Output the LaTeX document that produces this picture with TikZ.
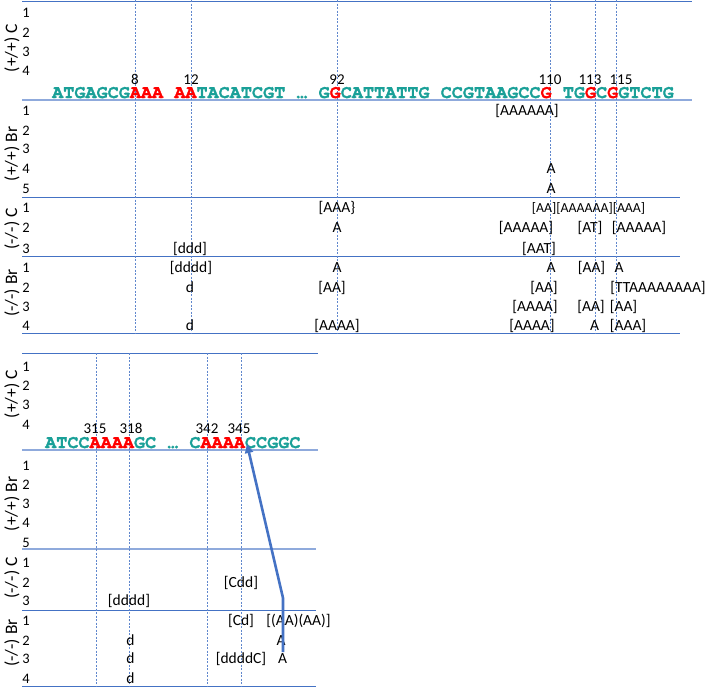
\documentclass[tikz,border=0pt]{standalone}
\usepackage{fontspec}
\setmainfont{Carlito}
\newfontfamily\seqfont{TeX Gyre Cursor}[BoldFeatures={FakeBold=1.4}]
\usetikzlibrary{arrows.meta}
\definecolor{seqteal}{RGB}{26,160,152}
\definecolor{seqred}{RGB}{255,0,0}
\definecolor{lineblue}{RGB}{68,114,196}
\definecolor{paleblue}{RGB}{143,170,220}
\newcommand{\redbase}[1]{\textcolor{seqred}{#1}}

\begin{document}
\begin{tikzpicture}[x=1pt,y=-1pt,
  sepline/.style={lineblue,line width=0.9pt},
  seqline/.style={paleblue,line width=1.4pt},
  guide/.style={lineblue!85!white,line width=0.7pt,dash pattern=on 2pt off 1.5pt},
  rowno/.style={inner sep=0pt,anchor=base,font=\fontsize{14.5}{16}\selectfont},
  grp/.style={inner sep=0pt,anchor=base,font=\fontsize{15.5}{17}\selectfont},
  posno/.style={inner sep=0pt,anchor=base,font=\fontsize{15}{17}\selectfont},
  geno/.style={inner sep=0pt,rotate=90,font=\fontsize{17.5}{19}\selectfont},
  seq/.style={inner sep=0pt,anchor=base west,text height=11pt,text depth=1pt,
    text=seqteal,font=\seqfont\bfseries\fontsize{18.5}{20}\selectfont},
  bigarrow/.style={lineblue,line width=2.6pt,-{Triangle[length=9pt,width=8pt]}}]
  \useasboundingbox (0,0) rectangle (709,688);

  % upper panel
  \draw[sepline] (22,1.5) -- (692,1.5);
  \draw[lineblue,line width=1.5pt] (78,1.5) -- (494,1.5);
  \draw[seqline] (22,100) -- (692,100);
  \draw[sepline] (22,197) -- (680,197);
  \draw[sepline] (22,256) -- (680,256);
  \draw[sepline] (22,333) -- (680,333);
  \foreach \x in {135,191,337,550,595,616}
    \draw[guide] (\x,0) -- (\x,333);

  \node[geno] (tpPC) at (12,48) {(+/+) C};
  \node[geno] (tpPB) at (12,154) {(+/+) Br};
  \node[geno] (tpMC) at (12,229) {(-/-) C};
  \node[geno] (tpMB) at (12,293) {(-/-) Br};
  \foreach \r/\b in {1/17,2/37,3/56,4/75}
    \node[rowno] (tpPC\r) at (26,\b) {\r};
  \foreach \r/\b in {1/115.5,2/135,3/153.5,4/173,5/193}
    \node[rowno] (tpPB\r) at (26,\b) {\r};
  \foreach \r/\b in {1/212,2/232.5,3/253}
    \node[rowno] (tpMC\r) at (26,\b) {\r};
  \foreach \r/\b in {1/272,2/292,3/311,4/330}
    \node[rowno] (tpMB\r) at (26,\b) {\r};

  \foreach \p/\x in {8/135,12/191,92/337,110/550,113/590,115/621}
    \node[posno] (tpos\p) at (\x,84) {\p};
  \node[seq] (tseq) at (52,98) {ATGAGCG\redbase{AAA} \redbase{AA}TACATCGT … G\redbase{G}CATTATTG CCGTAAGCC\redbase{G} TG\redbase{G}C\redbase{G}GTCTG};

  \node[grp] (tb1a) at (527,115.5) {[AAAAAA]};
  \node[grp] (tb4a) at (551,173) {A};
  \node[grp] (tb5a) at (551,193) {A};

  \node[grp] (tc1a) at (337,212) {[AAA\}};
  \node[grp,font=\fontsize{13.8}{16}\selectfont] (tc1b) at (588.5,212) {[AA][AAAAAA][AAA]};
  \node[grp] (tc2a) at (337,232.5) {A};
  \node[grp] (tc2b) at (526,232.5) {[AAAAA]};
  \node[grp] (tc2c) at (590,232.5) {[AT]};
  \node[grp] (tc2d) at (639,232.5) {[AAAAA]};
  \node[grp] (tc3a) at (190,253) {[ddd]};
  \node[grp] (tc3b) at (539,253) {[AAT]};

  \node[grp] (tr1a) at (191,272) {[dddd]};
  \node[grp] (tr1b) at (337,272) {A};
  \node[grp] (tr1c) at (551,272) {A};
  \node[grp] (tr1d) at (591.5,272) {[AA]};
  \node[grp] (tr1e) at (619,272) {A};
  \node[grp] (tr2a) at (190,292) {d};
  \node[grp] (tr2b) at (332,292) {[AA]};
  \node[grp] (tr2c) at (544,292) {[AA]};
  \node[grp] (tr2d) at (658,292) {[TTAAAAAAAA]};
  \node[grp] (tr3a) at (535,311) {[AAAA]};
  \node[grp] (tr3b) at (591,311) {[AA]};
  \node[grp] (tr3c) at (623.5,311) {[AA]};
  \node[grp] (tr4a) at (190,330) {d};
  \node[grp] (tr4b) at (337,330) {[AAAA]};
  \node[grp] (tr4c) at (532,330) {[AAAA]};
  \node[grp] (tr4d) at (594.5,330) {A};
  \node[grp] (tr4e) at (628,330) {[AAA]};

  % lower panel
  \draw[sepline] (22,353) -- (318,353);
  \draw[seqline] (22,450) -- (318,450);
  \draw[seqline] (22,549) -- (316,549);
  \draw[sepline] (22,610.5) -- (316,610.5);
  \draw[sepline] (22,686) -- (316,686);
  \foreach \x in {96,129,207,241}
    \draw[guide] (\x,353) -- (\x,686);

  \node[geno] (bpPC) at (12,394) {(+/+) C};
  \node[geno] (bpPB) at (12,504) {(+/+) Br};
  \node[geno] (bpMC) at (12,578) {(-/-) C};
  \node[geno] (bpMB) at (12,643) {(-/-) Br};
  \foreach \r/\b in {1/371,2/390.5,3/409.5,4/429}
    \node[rowno] (bpPC\r) at (26,\b) {\r};
  \foreach \r/\b in {1/470,2/489,3/508,4/527,5/547}
    \node[rowno] (bpPB\r) at (26,\b) {\r};
  \foreach \r/\b in {1/567,2/587,3/605.5}
    \node[rowno] (bpMC\r) at (26,\b) {\r};
  \foreach \r/\b in {1/625.5,2/645.5,3/663.5,4/683.5}
    \node[rowno] (bpMB\r) at (26,\b) {\r};

  \foreach \p/\x in {315/95,318/131,342/207,345/239}
    \node[posno] (bpos\p) at (\x,433.5) {\p};
  \node[seq] (bseq) at (45,448) {ATCC\redbase{AAAA}GC … C\redbase{AAAA}CCGGC};

  \node[grp] (bc2a) at (241,587) {[Cdd]};
  \node[grp] (bc3a) at (129,605.5) {[dddd]};
  \node[grp] (br1a) at (241,625.5) {[Cd]};
  \node[grp] (br1b) at (298.5,625.5) {[(AA)(AA)]};
  \node[grp] (br2a) at (130.5,645.5) {d};
  \node[grp] (br2b) at (281,645.5) {A};
  \node[grp] (br3a) at (130.5,663.5) {d};
  \node[grp] (br3b) at (241,663.5) {[ddddC]};
  \node[grp] (br3c) at (282.5,663.5) {A};
  \node[grp] (br4a) at (130.5,683.5) {d};

  \coordinate (arrS) at (283,652);
  \coordinate (arrB) at (283,598);
  \coordinate (arrT) at (247,444);
  \draw[bigarrow] (arrS) -- (arrB) -- (arrT);
\end{tikzpicture}
\end{document}
